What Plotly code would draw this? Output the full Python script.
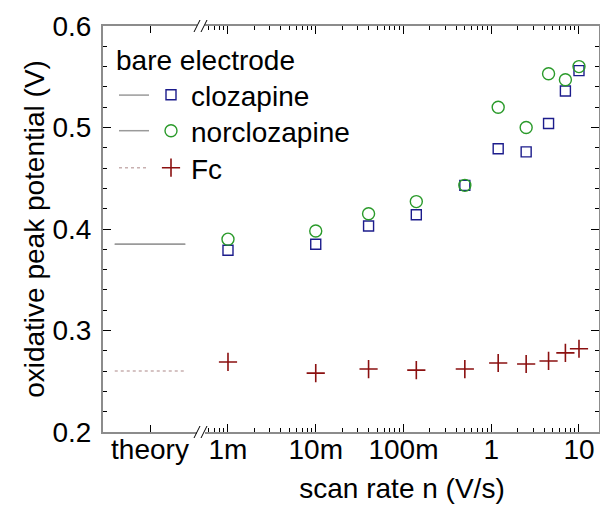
import plotly.graph_objects as go

# ---------------- data ----------------
scan_rate = [0.001, 0.01, 0.04, 0.14, 0.5, 1.2, 2.5, 4.5, 7, 10]
clozapine = [0.379, 0.385, 0.403, 0.414, 0.443, 0.479, 0.476, 0.504, 0.536, 0.556]
norclozapine = [0.390, 0.398, 0.415, 0.427, 0.443, 0.520, 0.500, 0.553, 0.547, 0.560]
fc = [0.269, 0.258, 0.262, 0.261, 0.262, 0.268, 0.267, 0.270, 0.278, 0.282]

theory_clozapine = 0.385
theory_norclozapine = 0.385
theory_fc = 0.260

x_tickvals = [0.001, 0.01, 0.1, 1, 10]
x_ticktext = ["1m", "10m", "100m", "1", "10"]

# ---------------- layout geometry ----------------
W, H = 600, 506
L, R, T, B = 103, 1, 26, 74
PW, PH = W - L - R, H - T - B


def px(x):
    return (x - L) / PW


def py(y):
    return (H - B - y) / PH


FONT = "Arial, Liberation Sans, sans-serif"
FS = 28
GRAY = "#8c8c8c"
theory_span = [-0.75, 0.75]

fig = go.Figure()

# theory lines (left panel)
fig.add_trace(go.Scatter(x=theory_span, y=[theory_clozapine] * 2, mode="lines",
                         line=dict(color="#9a9a9a", width=1.5), name="",
                         xaxis="x", yaxis="y", legend="legend4"))
fig.add_trace(go.Scatter(x=theory_span, y=[theory_norclozapine] * 2, mode="lines",
                         line=dict(color="#9a9a9a", width=1.5), name="",
                         xaxis="x", yaxis="y", legend="legend5"))
fig.add_trace(go.Scatter(x=theory_span, y=[theory_fc] * 2, mode="lines",
                         line=dict(color="#c8b0b0", width=1.5, dash="dot"), name="",
                         xaxis="x", yaxis="y", legend="legend6"))

# measured data (log panel)
fig.add_trace(go.Scatter(x=scan_rate, y=clozapine, mode="markers", name="clozapine",
                         marker=dict(symbol="square-open", size=10, color="#1c1c8c",
                                     line=dict(width=1.4)),
                         xaxis="x2", yaxis="y2", legend="legend"))
fig.add_trace(go.Scatter(x=scan_rate, y=norclozapine, mode="markers", name="norclozapine",
                         marker=dict(symbol="circle-open", size=12, color="#2a9a2a",
                                     line=dict(width=1.4)),
                         xaxis="x2", yaxis="y2", legend="legend2"))
fig.add_trace(go.Scatter(x=scan_rate, y=fc, mode="markers", name="Fc",
                         marker=dict(symbol="cross-thin-open", size=13, color="#8b1010",
                                     line=dict(width=1.6, color="#8b1010")),
                         xaxis="x2", yaxis="y2", legend="legend3"))

d1 = px(197)
d2 = px(205)

minor_vals = [k * 10 ** e for e in range(-4, 2) for k in range(2, 10)]

axis_common = dict(showline=True, linecolor=GRAY, linewidth=2, ticks="inside",
                   tickcolor="#000", tickwidth=1, showgrid=False, zeroline=False,
                   tickfont=dict(family=FONT, size=FS, color="#000"))


def leg(left, center_y, title=None):
    d = dict(x=px(left), y=py(center_y - 26), xanchor="left", yanchor="top",
             bgcolor="rgba(0,0,0,0)", borderwidth=0,
             font=dict(family=FONT, size=FS, color="#000"), tracegroupgap=0)
    if title:
        d["title"] = dict(text=title, font=dict(family=FONT, size=FS, color="#000"))
    return d


fig.update_layout(
    width=W, height=H,
    margin=dict(l=L, r=R, t=T, b=B, autoexpand=False),
    paper_bgcolor="white", plot_bgcolor="white",
    font=dict(family=FONT, size=FS, color="#000"),
    xaxis=dict(domain=[0, d1], range=[-1, 1], tickmode="array", tickvals=[0],
               ticktext=["theory"], ticklen=7, mirror="ticks", anchor="y",
               ticklabelstandoff=-9, automargin=False, **axis_common),
    xaxis2=dict(domain=[d2, 1], type="log", range=[-3.262, 1.228], tickmode="array",
                tickvals=x_tickvals, ticktext=x_ticktext, ticklen=8, mirror="ticks",
                anchor="y2", ticklabelstandoff=-9, automargin=False,
                minor=dict(tickmode="array", tickvals=minor_vals, ticks="inside",
                           ticklen=4, tickcolor="#000", showgrid=False),
                title=dict(text="scan rate n (V/s)", font=dict(family=FONT, size=FS),
                           standoff=15),
                **axis_common),
    yaxis=dict(domain=[0, 1], range=[0.2, 0.6], anchor="x", dtick=0.1, tick0=0.2,
               ticklen=8, ticklabelstandoff=4, automargin=True,
               minor=dict(dtick=0.02, ticks="inside", ticklen=4, tickcolor="#000",
                          showgrid=False),
               title=dict(text="oxidative peak potential (V)",
                          font=dict(family=FONT, size=FS), standoff=0),
               **axis_common),
    yaxis2=dict(domain=[0, 1], anchor="x2", side="right", matches="y",
                range=[0.2, 0.6], dtick=0.1, tick0=0.2, ticklen=8,
                showticklabels=False, automargin=False,
                minor=dict(dtick=0.02, ticks="inside", ticklen=4, tickcolor="#000",
                           showgrid=False),
                **axis_common),
    legend=leg(151, 96),
    legend2=leg(151, 132),
    legend3=leg(151, 169),
    legend4=leg(114, 60, title="bare electrode"),
    legend5=leg(114, 132),
    legend6=leg(114, 169),
    showlegend=True,
)
# legend4 has a title row above its item: place title at y=60, item at y=96
fig.layout.legend4.y = py(60 - 26)

# axis break marks "//" on bottom and top axes
for ycen in (0, 1):
    for xc in (197, 204):
        fig.add_shape(type="line", xref="paper", yref="paper",
                      x0=px(xc - 3), x1=px(xc + 3),
                      y0=ycen - 6 / PH, y1=ycen + 6 / PH,
                      line=dict(color="#000", width=1))

fig.write_html("out.html", config={"displayModeBar": False},
               post_script="document.body.style.margin='0';")
